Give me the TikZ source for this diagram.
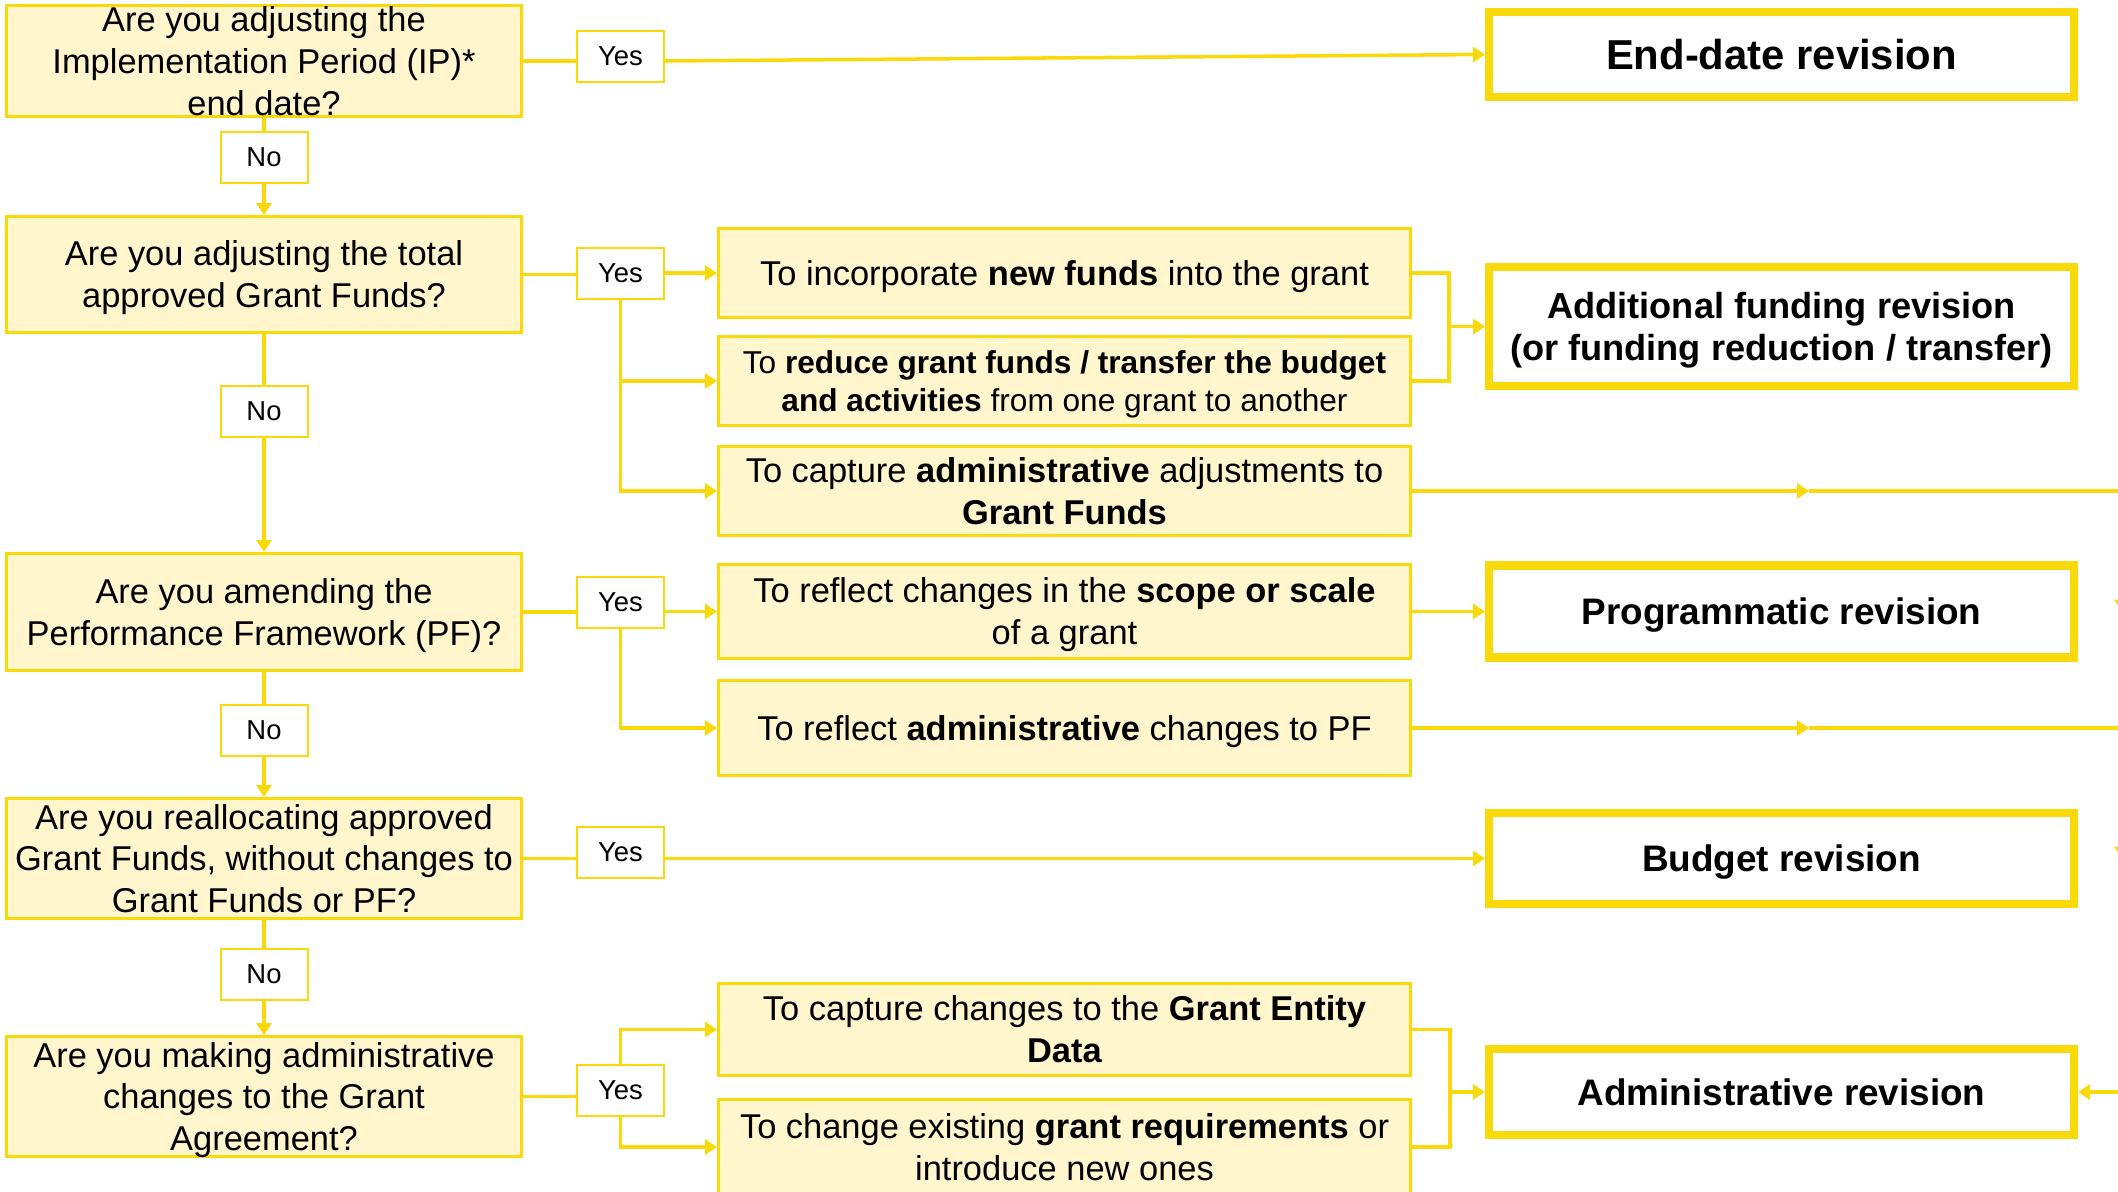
\documentclass[tikz,border=0pt]{standalone}
\usepackage{fontspec}
\setmainfont{Liberation Sans}
\usetikzlibrary{arrows.meta,positioning,calc}

\definecolor{revgold}{RGB}{250,217,10}
\definecolor{revcream}{RGB}{255,246,206}

\begin{document}
\begin{tikzpicture}[
    node distance=2cm,
    pptext/.style={inner xsep=0pt, inner ysep=-2pt, align=flush center, execute at begin node={\rule[-0.212em]{0pt}{1.142em}}, execute at end node={\rule[-0.212em]{0pt}{1.142em}}},
    question/.style={rectangle, draw=revgold, fill=revcream, line width=0.85pt, pptext, text width=5.1cm, minimum width=5.15cm, minimum height=1.17cm, font=\fontsize{9.8}{11.9}\selectfont},
    answer/.style={rectangle, draw=revgold, fill=white, line width=0.57pt, inner sep=0pt, minimum width=0.87cm, minimum height=0.51cm, font=\fontsize{7.8}{9}\selectfont},
    reason/.style={rectangle, draw=revgold, fill=revcream, line width=0.85pt, pptext, text width=6.88cm, minimum width=6.92cm, minimum height=0.89cm, font=\fontsize{9.8}{11.9}\selectfont},
    revision/.style={rectangle, draw=revgold, fill=white, line width=2.28pt, pptext, text width=5.8cm, minimum width=5.85cm, minimum height=0.91cm, font=\fontsize{10.5}{11.9}\selectfont\bfseries},
    link/.style={draw=revgold, line width=1pt},
    arrow/.style={link, -{Triangle[length=0.12cm, width=0.15cm]}}
]
\useasboundingbox (0,0) rectangle (21.18,-11.92);
\clip (0,0) rectangle (21.18,-11.92);

% Questions
\node[question, minimum height=1.11cm] (q1) at (2.64,-0.61) {Are you adjusting the\\Implementation Period (IP)*\\end date?};
\node[question, node distance=2.135cm, below of=q1, minimum height=1.16cm] (q2) {Are you adjusting the total\\approved Grant Funds?};
\node[question, node distance=3.375cm, below of=q2] (q3) {Are you amending the\\Performance Framework (PF)?};
\node[question, node distance=2.465cm, below of=q3, minimum height=1.20cm] (q4) {Are you reallocating approved\\Grant Funds, without changes to\\Grant Funds or PF?};
\node[question, node distance=2.38cm, below of=q4, minimum height=1.20cm] (q5) {Are you making administrative\\changes to the Grant\\Agreement?};

% No labels
\node[answer, node distance=0.965cm, below of=q1] (no1) {No};
\node[answer, node distance=1.365cm, below of=q2] (no2) {No};
\node[answer, node distance=1.185cm, below of=q3] (no3) {No};
\node[answer, node distance=1.16cm, below of=q4] (no4) {No};

% Yes labels
\node[answer, node distance=3.565cm, right of=q1, yshift=0.045cm] (yes1) {Yes};
\node[answer, node distance=3.565cm, right of=q2, yshift=0.01cm] (yes2) {Yes};
\node[answer, node distance=3.565cm, right of=q3, yshift=0.10cm] (yes3) {Yes};
\node[answer, node distance=3.565cm, right of=q4, yshift=0.06cm] (yes4) {Yes};
\node[answer, node distance=3.565cm, right of=q5, yshift=0.065cm] (yes5) {Yes};

% Reasons
\node[reason, node distance=8.005cm, right of=q2, yshift=0.015cm] (o1) {To incorporate \textbf{new funds} into the grant};
\node[reason, node distance=1.08cm, below of=o1, font=\fontsize{9}{10.7}\selectfont] (o2) {To \textbf{reduce grant funds / transfer the budget}\\\textbf{and activities} from one grant to another};
\node[reason, node distance=1.10cm, below of=o2] (o3) {To capture \textbf{administrative} adjustments to\\\textbf{Grant Funds}};
\node[reason, node distance=8.005cm, right of=q3, yshift=0.005cm, minimum height=0.94cm] (o4) {To reflect changes in the \textbf{scope or scale}\\of a grant};
\node[reason, node distance=1.165cm, below of=o4, minimum height=0.95cm] (o5) {To reflect \textbf{administrative} changes to PF};
\node[reason, node distance=8.005cm, right of=q5, yshift=0.67cm, minimum height=0.92cm] (o6) {To capture changes to the \textbf{Grant Entity}\\\textbf{Data}};
\node[reason, node distance=1.175cm, below of=o6, minimum height=0.95cm] (o7) {To change existing \textbf{grant requirements} or\\introduce new ones};

% Revisions
\node[revision, node distance=15.175cm, right of=q1, yshift=0.065cm, minimum height=0.85cm, font=\fontsize{11.9}{13}\selectfont\bfseries] (r1) {End-date revision};
\node[revision, node distance=15.175cm, right of=q2, yshift=-0.52cm, minimum height=1.19cm, font=\fontsize{10.3}{11.9}\selectfont\bfseries] (r2) {Additional funding revision\\(or funding reduction / transfer)};
\node[revision, node distance=7.17cm, right of=o4, minimum height=0.92cm] (r3) {Programmatic revision};
\node[revision, node distance=15.175cm, right of=q4] (r4) {Budget revision};
\node[revision, node distance=15.175cm, right of=q5, yshift=0.045cm, minimum height=0.86cm] (r5) {Administrative revision};

% Joints
\coordinate[node distance=3.325cm, left of=r2] (j2);
\coordinate[node distance=3.315cm, left of=r5] (j5);
\coordinate[node distance=7.445cm, right of=o3] (m3);
\coordinate[node distance=10.575cm, right of=o3] (e3);
\coordinate[node distance=7.445cm, right of=o5] (m5);
\coordinate[node distance=10.575cm, right of=o5] (e5);
\coordinate (v1) at (e3 |- r3.east);
\coordinate (v2) at (e3 |- r4.east);
\coordinate (e6) at (e3 |- r5.east);

% Arrows
\draw[link] (q1.east) -- (q1.east -| yes1.west);
\draw[arrow] (q1.east -| yes1.east) -- (r1.west);
\draw[link] (q1.south) -- (no1.north);
\draw[arrow] (no1.south) -- (q2.north);

\draw[link] (q2.east) -- (q2.east -| yes2.west);
\draw[arrow] (yes2.east |- o1.west) -- (o1.west);
\draw[arrow] (yes2.south) |- (o2.west);
\draw[arrow] (yes2.south) |- (o3.west);
\draw[link] (o1.east) -| (j2) |- (o2.east);
\draw[arrow] (j2) -- (r2.west);
\draw[arrow] (o3.east) -- (m3);
\draw[link] (m3) -- (e3);
\draw[link] (q2.south) -- (no2.north);
\draw[arrow] (no2.south) -- (q3.north);

\draw[link] (q3.east) -- (q3.east -| yes3.west);
\draw[arrow] (yes3.east |- o4.west) -- (o4.west);
\draw[arrow] (yes3.south) |- (o5.west);
\draw[arrow] (o4.east) -- (r3.west);
\draw[arrow] (o5.east) -- (m5);
\draw[link] (m5) -- (e5);
\draw[link] (q3.south) -- (no3.north);
\draw[arrow] (no3.south) -- (q4.north);

\draw[link] (q4.east) -- (q4.east -| yes4.west);
\draw[arrow] (q4.east -| yes4.east) -- (r4.west);
\draw[link] (q4.south) -- (no4.north);
\draw[arrow] (no4.south) -- (q5.north);

\draw[link] (q5.east) -- (q5.east -| yes5.west);
\draw[arrow] (yes5.north) |- (o6.west);
\draw[arrow] (yes5.south) |- (o7.west);
\draw[link] (o6.east) -| (j5) |- (o7.east);
\draw[arrow] (j5) -- (r5.west);

% Return line at the right edge
\draw[arrow] (e3) -- (v1);
\draw[arrow] (v1) -- (v2);
\draw[link] (v2) -- (e6);
\draw[arrow] (e6) -- (r5.east);

\end{tikzpicture}
\end{document}
